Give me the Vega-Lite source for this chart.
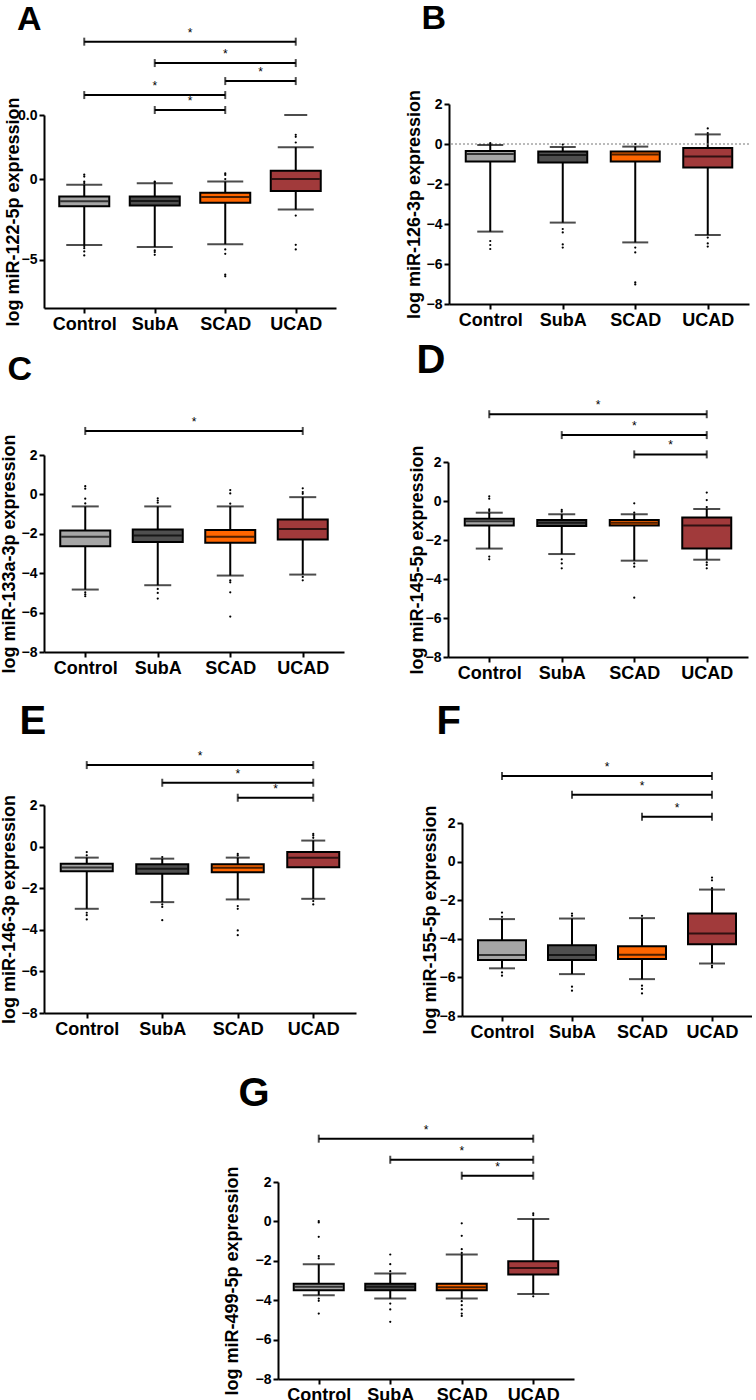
{
  "$schema": "https://vega.github.io/schema/vega-lite/v6.json",
  "padding": {"left": 0, "top": 2, "right": 0, "bottom": 0},
  "background": "white",
  "config": {
    "view": {"stroke": null},
    "font": "Liberation Sans",
    "axis": {"domainColor": "black", "domainWidth": 2, "tickColor": "black", "tickWidth": 2, "tickSize": 5, "labelColor": "black", "labelFontWeight": "bold", "titleFontWeight": "bold", "titleColor": "black", "titleFontSize": 18, "titleFont": "Liberation Sans", "labelFont": "Liberation Sans", "grid": false, "labelPadding": 2, "labelFlush": false, "labelOverlap": false, "labelBound": false, "tickCount": 12},
    "axisX": {"labelFontSize": 18, "labelAngle": 0},
    "axisY": {"labelFontSize": 14},
    "title": {"anchor": "start", "fontWeight": "bold", "color": "black", "font": "Liberation Sans"}
  },
  "datasets": {
    "box": [
      {"p": "A", "g": 1, "lo": -4.09, "q1": -1.67, "med": -1.36, "q3": -1.07, "hi": -0.33},
      {"p": "A", "g": 2, "lo": -4.21, "q1": -1.63, "med": -1.34, "q3": -1.07, "hi": -0.25},
      {"p": "A", "g": 3, "lo": -4.03, "q1": -1.45, "med": -1.10, "q3": -0.83, "hi": -0.14},
      {"p": "A", "g": 4, "lo": -1.88, "q1": -0.72, "med": 0.02, "q3": 0.54, "hi": 2.0},
      {"p": "B", "g": 1, "lo": -4.38, "q1": -0.87, "med": -0.5, "q3": -0.35, "hi": -0.05},
      {"p": "B", "g": 2, "lo": -3.93, "q1": -0.92, "med": -0.55, "q3": -0.38, "hi": -0.15},
      {"p": "B", "g": 3, "lo": -4.92, "q1": -0.87, "med": -0.52, "q3": -0.37, "hi": -0.13},
      {"p": "B", "g": 4, "lo": -4.55, "q1": -1.17, "med": -0.62, "q3": -0.2, "hi": 0.48},
      {"p": "C", "g": 1, "lo": -4.83, "q1": -2.63, "med": -2.15, "q3": -1.83, "hi": -0.61},
      {"p": "C", "g": 2, "lo": -4.61, "q1": -2.42, "med": -2.08, "q3": -1.78, "hi": -0.61},
      {"p": "C", "g": 3, "lo": -4.12, "q1": -2.46, "med": -2.15, "q3": -1.81, "hi": -0.61},
      {"p": "C", "g": 4, "lo": -4.07, "q1": -2.29, "med": -1.75, "q3": -1.27, "hi": -0.14},
      {"p": "D", "g": 1, "lo": -2.44, "q1": -1.25, "med": -1.04, "q3": -0.91, "hi": -0.6},
      {"p": "D", "g": 2, "lo": -2.72, "q1": -1.28, "med": -1.11, "q3": -0.97, "hi": -0.68},
      {"p": "D", "g": 3, "lo": -3.06, "q1": -1.26, "med": -1.11, "q3": -0.97, "hi": -0.68},
      {"p": "D", "g": 4, "lo": -3.01, "q1": -2.44, "med": -1.25, "q3": -0.84, "hi": -0.41},
      {"p": "E", "g": 1, "lo": -2.99, "q1": -1.18, "med": -1.01, "q3": -0.83, "hi": -0.53},
      {"p": "E", "g": 2, "lo": -2.67, "q1": -1.31, "med": -1.07, "q3": -0.85, "hi": -0.58},
      {"p": "E", "g": 3, "lo": -2.54, "q1": -1.23, "med": -1.02, "q3": -0.85, "hi": -0.53},
      {"p": "E", "g": 4, "lo": -2.51, "q1": -0.99, "med": -0.54, "q3": -0.26, "hi": 0.29},
      {"p": "F", "g": 1, "lo": -5.53, "q1": -5.1, "med": -4.84, "q3": -4.07, "hi": -2.98},
      {"p": "F", "g": 2, "lo": -5.83, "q1": -5.1, "med": -4.84, "q3": -4.33, "hi": -2.95},
      {"p": "F", "g": 3, "lo": -6.09, "q1": -5.05, "med": -4.83, "q3": -4.38, "hi": -2.93},
      {"p": "F", "g": 4, "lo": -5.28, "q1": -4.28, "med": -3.72, "q3": -2.69, "hi": -1.45},
      {"p": "G", "g": 1, "lo": -3.75, "q1": -3.49, "med": -3.32, "q3": -3.17, "hi": -2.17},
      {"p": "G", "g": 2, "lo": -3.92, "q1": -3.49, "med": -3.32, "q3": -3.17, "hi": -2.64},
      {"p": "G", "g": 3, "lo": -3.92, "q1": -3.49, "med": -3.34, "q3": -3.17, "hi": -1.68},
      {"p": "G", "g": 4, "lo": -3.69, "q1": -2.69, "med": -2.36, "q3": -2.02, "hi": 0.12}
    ],
    "out": [
      {"p": "A", "g": 1, "v": 0.29}, {"p": "A", "g": 1, "v": 0.17}, {"p": "A", "g": 1, "v": -0.14}, {"p": "A", "g": 1, "v": -0.23}, {"p": "A", "g": 1, "v": -4.15}, {"p": "A", "g": 1, "v": -4.28}, {"p": "A", "g": 1, "v": -4.48}, {"p": "A", "g": 1, "v": -4.73},
      {"p": "A", "g": 2, "v": -0.14}, {"p": "A", "g": 2, "v": -0.18}, {"p": "A", "g": 2, "v": -4.42}, {"p": "A", "g": 2, "v": -4.52}, {"p": "A", "g": 2, "v": -4.69},
      {"p": "A", "g": 3, "v": 0.37}, {"p": "A", "g": 3, "v": 0.27}, {"p": "A", "g": 3, "v": 0.02}, {"p": "A", "g": 3, "v": -4.36}, {"p": "A", "g": 3, "v": -4.63}, {"p": "A", "g": 3, "v": -5.93}, {"p": "A", "g": 3, "v": -6.03},
      {"p": "A", "g": 4, "v": 2.77}, {"p": "A", "g": 4, "v": 2.64}, {"p": "A", "g": 4, "v": 2.29}, {"p": "A", "g": 4, "v": -2.25}, {"p": "A", "g": 4, "v": -4.07}, {"p": "A", "g": 4, "v": -4.36},
      {"p": "B", "g": 1, "v": 0.05}, {"p": "B", "g": 1, "v": 0.0}, {"p": "B", "g": 1, "v": -4.85}, {"p": "B", "g": 1, "v": -5.05}, {"p": "B", "g": 1, "v": -5.25},
      {"p": "B", "g": 2, "v": -0.03}, {"p": "B", "g": 2, "v": -4.25}, {"p": "B", "g": 2, "v": -4.42}, {"p": "B", "g": 2, "v": -5.02}, {"p": "B", "g": 2, "v": -5.18},
      {"p": "B", "g": 3, "v": 0.0}, {"p": "B", "g": 3, "v": -5.18}, {"p": "B", "g": 3, "v": -5.42}, {"p": "B", "g": 3, "v": -6.92}, {"p": "B", "g": 3, "v": -7.02},
      {"p": "B", "g": 4, "v": 0.78}, {"p": "B", "g": 4, "v": 0.55}, {"p": "B", "g": 4, "v": -4.68}, {"p": "B", "g": 4, "v": -4.97}, {"p": "B", "g": 4, "v": -5.13},
      {"p": "C", "g": 1, "v": 0.42}, {"p": "C", "g": 1, "v": 0.29}, {"p": "C", "g": 1, "v": -0.22}, {"p": "C", "g": 1, "v": -0.46}, {"p": "C", "g": 1, "v": -4.97}, {"p": "C", "g": 1, "v": -5.08}, {"p": "C", "g": 1, "v": -5.17},
      {"p": "C", "g": 2, "v": -0.2}, {"p": "C", "g": 2, "v": -0.31}, {"p": "C", "g": 2, "v": -0.42}, {"p": "C", "g": 2, "v": -4.8}, {"p": "C", "g": 2, "v": -5.0}, {"p": "C", "g": 2, "v": -5.29},
      {"p": "C", "g": 3, "v": 0.22}, {"p": "C", "g": 3, "v": 0.05}, {"p": "C", "g": 3, "v": -0.47}, {"p": "C", "g": 3, "v": -4.37}, {"p": "C", "g": 3, "v": -4.46}, {"p": "C", "g": 3, "v": -4.97}, {"p": "C", "g": 3, "v": -6.2},
      {"p": "C", "g": 4, "v": 0.31}, {"p": "C", "g": 4, "v": 0.12}, {"p": "C", "g": 4, "v": 0.03}, {"p": "C", "g": 4, "v": -4.19}, {"p": "C", "g": 4, "v": -4.36},
      {"p": "D", "g": 1, "v": 0.24}, {"p": "D", "g": 1, "v": 0.12}, {"p": "D", "g": 1, "v": -0.43}, {"p": "D", "g": 1, "v": -0.51}, {"p": "D", "g": 1, "v": -2.85}, {"p": "D", "g": 1, "v": -2.99},
      {"p": "D", "g": 2, "v": -0.46}, {"p": "D", "g": 2, "v": -0.55}, {"p": "D", "g": 2, "v": -2.99}, {"p": "D", "g": 2, "v": -3.2}, {"p": "D", "g": 2, "v": -3.45},
      {"p": "D", "g": 3, "v": -0.12}, {"p": "D", "g": 3, "v": -0.6}, {"p": "D", "g": 3, "v": -3.2}, {"p": "D", "g": 3, "v": -3.37}, {"p": "D", "g": 3, "v": -4.96},
      {"p": "D", "g": 4, "v": 0.43}, {"p": "D", "g": 4, "v": 0.05}, {"p": "D", "g": 4, "v": -0.31}, {"p": "D", "g": 4, "v": -3.15}, {"p": "D", "g": 4, "v": -3.28}, {"p": "D", "g": 4, "v": -3.45},
      {"p": "E", "g": 1, "v": -0.26}, {"p": "E", "g": 1, "v": -0.42}, {"p": "E", "g": 1, "v": -3.18}, {"p": "E", "g": 1, "v": -3.3}, {"p": "E", "g": 1, "v": -3.5},
      {"p": "E", "g": 2, "v": -0.5}, {"p": "E", "g": 2, "v": -2.78}, {"p": "E", "g": 2, "v": -2.9}, {"p": "E", "g": 2, "v": -3.54},
      {"p": "E", "g": 3, "v": -0.35}, {"p": "E", "g": 3, "v": -0.43}, {"p": "E", "g": 3, "v": -2.86}, {"p": "E", "g": 3, "v": -2.99}, {"p": "E", "g": 3, "v": -4.03}, {"p": "E", "g": 3, "v": -4.26},
      {"p": "E", "g": 4, "v": 0.61}, {"p": "E", "g": 4, "v": 0.53}, {"p": "E", "g": 4, "v": 0.42}, {"p": "E", "g": 4, "v": -2.62}, {"p": "E", "g": 4, "v": -2.78},
      {"p": "F", "g": 1, "v": -2.64}, {"p": "F", "g": 1, "v": -2.86}, {"p": "F", "g": 1, "v": -5.74}, {"p": "F", "g": 1, "v": -5.91},
      {"p": "F", "g": 2, "v": -2.69}, {"p": "F", "g": 2, "v": -2.81}, {"p": "F", "g": 2, "v": -6.48}, {"p": "F", "g": 2, "v": -6.69},
      {"p": "F", "g": 3, "v": -2.81}, {"p": "F", "g": 3, "v": -6.43}, {"p": "F", "g": 3, "v": -6.6}, {"p": "F", "g": 3, "v": -6.83},
      {"p": "F", "g": 4, "v": -0.83}, {"p": "F", "g": 4, "v": -0.97}, {"p": "F", "g": 4, "v": -1.38}, {"p": "F", "g": 4, "v": -5.4}, {"p": "F", "g": 4, "v": -5.48},
      {"p": "G", "g": 1, "v": 0.02}, {"p": "G", "g": 1, "v": -0.05}, {"p": "G", "g": 1, "v": -0.78}, {"p": "G", "g": 1, "v": -1.76}, {"p": "G", "g": 1, "v": -1.88}, {"p": "G", "g": 1, "v": -3.92}, {"p": "G", "g": 1, "v": -4.03}, {"p": "G", "g": 1, "v": -4.68},
      {"p": "G", "g": 2, "v": -1.68}, {"p": "G", "g": 2, "v": -2.17}, {"p": "G", "g": 2, "v": -2.53}, {"p": "G", "g": 2, "v": -4.17}, {"p": "G", "g": 2, "v": -4.47}, {"p": "G", "g": 2, "v": -5.1},
      {"p": "G", "g": 3, "v": -0.1}, {"p": "G", "g": 3, "v": -0.73}, {"p": "G", "g": 3, "v": -1.41}, {"p": "G", "g": 3, "v": -1.6}, {"p": "G", "g": 3, "v": -4.05}, {"p": "G", "g": 3, "v": -4.25}, {"p": "G", "g": 3, "v": -4.47}, {"p": "G", "g": 3, "v": -4.68}, {"p": "G", "g": 3, "v": -4.8},
      {"p": "G", "g": 4, "v": 0.32}, {"p": "G", "g": 4, "v": 0.41}, {"p": "G", "g": 4, "v": -3.8}
    ],
    "sig": [
      {"p": "A", "from": 1, "to": 4, "mid": 2.5, "lvl": 8.56},
      {"p": "A", "from": 2, "to": 4, "mid": 3, "lvl": 7.23},
      {"p": "A", "from": 3, "to": 4, "mid": 3.5, "lvl": 6.11},
      {"p": "A", "from": 1, "to": 3, "mid": 2, "lvl": 5.24},
      {"p": "A", "from": 2, "to": 3, "mid": 2.5, "lvl": 4.31},
      {"p": "C", "from": 1, "to": 4, "mid": 2.5, "lvl": 3.22},
      {"p": "D", "from": 1, "to": 4, "mid": 2.5, "lvl": 4.45},
      {"p": "D", "from": 2, "to": 4, "mid": 3, "lvl": 3.38},
      {"p": "D", "from": 3, "to": 4, "mid": 3.5, "lvl": 2.39},
      {"p": "E", "from": 1, "to": 4, "mid": 2.5, "lvl": 3.92},
      {"p": "E", "from": 2, "to": 4, "mid": 3, "lvl": 3.07},
      {"p": "E", "from": 3, "to": 4, "mid": 3.5, "lvl": 2.35},
      {"p": "F", "from": 1, "to": 4, "mid": 2.5, "lvl": 4.44},
      {"p": "F", "from": 2, "to": 4, "mid": 3, "lvl": 3.47},
      {"p": "F", "from": 3, "to": 4, "mid": 3.5, "lvl": 2.33},
      {"p": "G", "from": 1, "to": 4, "mid": 2.5, "lvl": 4.2},
      {"p": "G", "from": 2, "to": 4, "mid": 3, "lvl": 3.13},
      {"p": "G", "from": 3, "to": 4, "mid": 3.5, "lvl": 2.32}
    ]
  },
  "concat": [
    {
      "columns": 2, "align": "none", "spacing": 69,
      "concat": [
        {
          "vconcat": [
            {"width": 1, "height": 11, "data": {"values": []}, "mark": {"type": "point", "opacity": 0}},
            {
              "width": 292, "height": 193,
              "title": {"text": "A", "fontSize": 34, "dx": 13, "offset": -10.5},
              "layer": [
                {"data": {"name": "box"}, "transform": [{"filter": "datum.p === 'A'"}], "mark": {"type": "rule", "strokeWidth": 2, "color": "black"},
                 "encoding": {
                   "x": {"field": "g", "type": "quantitative", "scale": {"domain": [0.5, 4.5], "nice": false, "zero": false}, "axis": {"values": [1, 2, 3, 4], "labelExpr": "['', 'Control', 'SubA', 'SCAD', 'UCAD'][datum.value]", "title": null}},
                   "y": {"field": "lo", "type": "quantitative", "scale": {"domain": [-8, 4], "nice": false, "zero": false}, "axis": {"values": [-5, 0, 4], "labelExpr": "datum.value == 4 ? '0.0' : datum.label", "titlePadding": -4.5}, "title": "log miR-122-5p expression"},
                   "y2": {"field": "hi"}}},
                {"data": {"name": "box"}, "transform": [{"filter": "datum.p === 'A'"}], "mark": {"type": "tick", "orient": "horizontal", "size": 36, "thickness": 2, "color": "black"},
                 "encoding": {"x": {"field": "g", "type": "quantitative"}, "y": {"field": "lo", "type": "quantitative"}}},
                {"data": {"name": "box"}, "transform": [{"filter": "datum.p === 'A'"}], "mark": {"type": "tick", "orient": "horizontal", "size": 36, "thickness": 2, "color": "black"},
                 "encoding": {"x": {"field": "g", "type": "quantitative"}, "y": {"field": "hi", "type": "quantitative"}}},
                {"data": {"name": "box"}, "transform": [{"filter": "datum.p === 'A'"}], "mark": {"type": "bar", "orient": "vertical", "size": 50, "stroke": "black", "strokeWidth": 2},
                 "encoding": {"x": {"field": "g", "type": "quantitative"}, "y": {"field": "q1", "type": "quantitative"}, "y2": {"field": "q3"},
                   "color": {"field": "g", "type": "nominal", "scale": {"domain": [1, 2, 3, 4], "range": ["#a6a6a6", "#4f4f4f", "#ff6600", "#a13a3b"]}, "legend": null}}},
                {"data": {"name": "box"}, "transform": [{"filter": "datum.p === 'A'"}], "mark": {"type": "tick", "orient": "horizontal", "size": 48, "thickness": 2, "color": "black"},
                 "encoding": {"x": {"field": "g", "type": "quantitative"}, "y": {"field": "med", "type": "quantitative"}}},
                {"data": {"name": "out"}, "transform": [{"filter": "datum.p === 'A'"}], "mark": {"type": "circle", "size": 5, "color": "black", "opacity": 1},
                 "encoding": {"x": {"field": "g", "type": "quantitative"}, "y": {"field": "v", "type": "quantitative"}}},
                {"data": {"values": [{"g": 4, "v": 4}]}, "mark": {"type": "tick", "orient": "horizontal", "size": 23, "thickness": 2, "color": "black"},
                 "encoding": {"x": {"field": "g", "type": "quantitative"}, "y": {"field": "v", "type": "quantitative"}}},
                {"data": {"name": "sig"}, "transform": [{"filter": "datum.p === 'A'"}], "mark": {"type": "rule", "strokeWidth": 2, "color": "black"},
                 "encoding": {"x": {"field": "from", "type": "quantitative"}, "x2": {"field": "to"}, "y": {"field": "lvl", "type": "quantitative"}}},
                {"data": {"name": "sig"}, "transform": [{"filter": "datum.p === 'A'"}], "mark": {"type": "tick", "orient": "vertical", "size": 8, "thickness": 2, "color": "black"},
                 "encoding": {"x": {"field": "from", "type": "quantitative"}, "y": {"field": "lvl", "type": "quantitative"}}},
                {"data": {"name": "sig"}, "transform": [{"filter": "datum.p === 'A'"}], "mark": {"type": "tick", "orient": "vertical", "size": 8, "thickness": 2, "color": "black"},
                 "encoding": {"x": {"field": "to", "type": "quantitative"}, "y": {"field": "lvl", "type": "quantitative"}}},
                {"data": {"name": "sig"}, "transform": [{"filter": "datum.p === 'A'"}], "mark": {"type": "text", "text": "*", "fontSize": 12, "baseline": "bottom", "dy": -2, "color": "black"},
                 "encoding": {"x": {"field": "mid", "type": "quantitative"}, "y": {"field": "lvl", "type": "quantitative"}}}
              ]
            }
          ],
          "spacing": 0, "bounds": "flush"
        },
        {
          "width": 300, "height": 200,
          "title": {"text": "B", "fontSize": 34, "dx": 16, "offset": 53},
          "layer": [
            {"data": {"name": "box"}, "transform": [{"filter": "datum.p === 'B'"}], "mark": {"type": "rule", "strokeWidth": 2, "color": "black"},
             "encoding": {
               "x": {"field": "g", "type": "quantitative", "scale": {"domain": [0.5, 4.5], "nice": false, "zero": false}, "axis": {"values": [1, 2, 3, 4], "labelExpr": "['', 'Control', 'SubA', 'SCAD', 'UCAD'][datum.value]", "title": null}},
               "y": {"field": "lo", "type": "quantitative", "scale": {"domain": [-8, 2], "nice": false, "zero": false}, "axis": {"values": [-8, -6, -4, -2, 0, 2], "titlePadding": 2.5}, "title": "log miR-126-3p expression"},
               "y2": {"field": "hi"}}},
            {"data": {"values": [{}]}, "mark": {"type": "rule", "strokeDash": [2, 2], "strokeWidth": 1, "color": "#777777"}, "encoding": {"y": {"datum": 0}}},
            {"data": {"name": "box"}, "transform": [{"filter": "datum.p === 'B'"}], "mark": {"type": "tick", "orient": "horizontal", "size": 26, "thickness": 2, "color": "black"},
             "encoding": {"x": {"field": "g", "type": "quantitative"}, "y": {"field": "lo", "type": "quantitative"}}},
            {"data": {"name": "box"}, "transform": [{"filter": "datum.p === 'B'"}], "mark": {"type": "tick", "orient": "horizontal", "size": 26, "thickness": 2, "color": "black"},
             "encoding": {"x": {"field": "g", "type": "quantitative"}, "y": {"field": "hi", "type": "quantitative"}}},
            {"data": {"name": "box"}, "transform": [{"filter": "datum.p === 'B'"}], "mark": {"type": "bar", "orient": "vertical", "size": 49, "stroke": "black", "strokeWidth": 2},
             "encoding": {"x": {"field": "g", "type": "quantitative"}, "y": {"field": "q1", "type": "quantitative"}, "y2": {"field": "q3"},
               "color": {"field": "g", "type": "nominal", "scale": {"domain": [1, 2, 3, 4], "range": ["#a6a6a6", "#4f4f4f", "#ff6600", "#a13a3b"]}, "legend": null}}},
            {"data": {"name": "box"}, "transform": [{"filter": "datum.p === 'B'"}], "mark": {"type": "tick", "orient": "horizontal", "size": 47, "thickness": 2, "color": "black"},
             "encoding": {"x": {"field": "g", "type": "quantitative"}, "y": {"field": "med", "type": "quantitative"}}},
            {"data": {"name": "out"}, "transform": [{"filter": "datum.p === 'B'"}], "mark": {"type": "circle", "size": 5, "color": "black", "opacity": 1},
             "encoding": {"x": {"field": "g", "type": "quantitative"}, "y": {"field": "v", "type": "quantitative"}}}
          ]
        }
      ]
    },
    {"width": 1, "height": 7, "data": {"values": []}, "mark": {"type": "point", "opacity": 0}},
    {
      "columns": 2, "align": "none", "spacing": 64,
      "concat": [
        {
          "width": 300, "height": 197,
          "title": {"text": "C", "fontSize": 34, "dx": 7, "offset": 29},
          "layer": [
            {"data": {"name": "box"}, "transform": [{"filter": "datum.p === 'C'"}], "mark": {"type": "rule", "strokeWidth": 2, "color": "black"},
             "encoding": {
               "x": {"field": "g", "type": "quantitative", "scale": {"domain": [0.5, 4.5], "nice": false, "zero": false}, "axis": {"values": [1, 2, 3, 4], "labelExpr": "['', 'Control', 'SubA', 'SCAD', 'UCAD'][datum.value]", "title": null}},
               "y": {"field": "lo", "type": "quantitative", "scale": {"domain": [-8, 2], "nice": false, "zero": false}, "axis": {"values": [-8, -6, -4, -2, 0, 2], "titlePadding": 2.5}, "title": "log miR-133a-3p expression"},
               "y2": {"field": "hi"}}},
            {"data": {"name": "box"}, "transform": [{"filter": "datum.p === 'C'"}], "mark": {"type": "tick", "orient": "horizontal", "size": 27, "thickness": 2, "color": "black"},
             "encoding": {"x": {"field": "g", "type": "quantitative"}, "y": {"field": "lo", "type": "quantitative"}}},
            {"data": {"name": "box"}, "transform": [{"filter": "datum.p === 'C'"}], "mark": {"type": "tick", "orient": "horizontal", "size": 27, "thickness": 2, "color": "black"},
             "encoding": {"x": {"field": "g", "type": "quantitative"}, "y": {"field": "hi", "type": "quantitative"}}},
            {"data": {"name": "box"}, "transform": [{"filter": "datum.p === 'C'"}], "mark": {"type": "bar", "orient": "vertical", "size": 50, "stroke": "black", "strokeWidth": 2},
             "encoding": {"x": {"field": "g", "type": "quantitative"}, "y": {"field": "q1", "type": "quantitative"}, "y2": {"field": "q3"},
               "color": {"field": "g", "type": "nominal", "scale": {"domain": [1, 2, 3, 4], "range": ["#a6a6a6", "#4f4f4f", "#ff6600", "#a13a3b"]}, "legend": null}}},
            {"data": {"name": "box"}, "transform": [{"filter": "datum.p === 'C'"}], "mark": {"type": "tick", "orient": "horizontal", "size": 48, "thickness": 2, "color": "black"},
             "encoding": {"x": {"field": "g", "type": "quantitative"}, "y": {"field": "med", "type": "quantitative"}}},
            {"data": {"name": "out"}, "transform": [{"filter": "datum.p === 'C'"}], "mark": {"type": "circle", "size": 5, "color": "black", "opacity": 1},
             "encoding": {"x": {"field": "g", "type": "quantitative"}, "y": {"field": "v", "type": "quantitative"}}},
            {"data": {"name": "sig"}, "transform": [{"filter": "datum.p === 'C'"}], "mark": {"type": "rule", "strokeWidth": 2, "color": "black"},
             "encoding": {"x": {"field": "from", "type": "quantitative"}, "x2": {"field": "to"}, "y": {"field": "lvl", "type": "quantitative"}}},
            {"data": {"name": "sig"}, "transform": [{"filter": "datum.p === 'C'"}], "mark": {"type": "tick", "orient": "vertical", "size": 8, "thickness": 2, "color": "black"},
             "encoding": {"x": {"field": "from", "type": "quantitative"}, "y": {"field": "lvl", "type": "quantitative"}}},
            {"data": {"name": "sig"}, "transform": [{"filter": "datum.p === 'C'"}], "mark": {"type": "tick", "orient": "vertical", "size": 8, "thickness": 2, "color": "black"},
             "encoding": {"x": {"field": "to", "type": "quantitative"}, "y": {"field": "lvl", "type": "quantitative"}}},
            {"data": {"name": "sig"}, "transform": [{"filter": "datum.p === 'C'"}], "mark": {"type": "text", "text": "*", "fontSize": 12, "baseline": "bottom", "dy": -2, "color": "black"},
             "encoding": {"x": {"field": "mid", "type": "quantitative"}, "y": {"field": "lvl", "type": "quantitative"}}}
          ]
        },
        {
          "vconcat": [
            {"width": 1, "height": 7, "data": {"values": []}, "mark": {"type": "point", "opacity": 0}},
            {
              "width": 300, "height": 195,
              "title": {"text": "D", "fontSize": 40, "dx": 8, "offset": 18.5},
              "layer": [
                {"data": {"name": "box"}, "transform": [{"filter": "datum.p === 'D'"}], "mark": {"type": "rule", "strokeWidth": 2, "color": "black"},
                 "encoding": {
                   "x": {"field": "g", "type": "quantitative", "scale": {"domain": [0.5, 4.5], "nice": false, "zero": false}, "axis": {"values": [1, 2, 3, 4], "labelExpr": "['', 'Control', 'SubA', 'SCAD', 'UCAD'][datum.value]", "title": null}},
                   "y": {"field": "lo", "type": "quantitative", "scale": {"domain": [-8, 2], "nice": false, "zero": false}, "axis": {"values": [-8, -6, -4, -2, 0, 2], "titlePadding": -1.5}, "title": "log miR-145-5p expression"},
                   "y2": {"field": "hi"}}},
                {"data": {"name": "box"}, "transform": [{"filter": "datum.p === 'D'"}], "mark": {"type": "tick", "orient": "horizontal", "size": 27, "thickness": 2, "color": "black"},
                 "encoding": {"x": {"field": "g", "type": "quantitative"}, "y": {"field": "lo", "type": "quantitative"}}},
                {"data": {"name": "box"}, "transform": [{"filter": "datum.p === 'D'"}], "mark": {"type": "tick", "orient": "horizontal", "size": 27, "thickness": 2, "color": "black"},
                 "encoding": {"x": {"field": "g", "type": "quantitative"}, "y": {"field": "hi", "type": "quantitative"}}},
                {"data": {"name": "box"}, "transform": [{"filter": "datum.p === 'D'"}], "mark": {"type": "bar", "orient": "vertical", "size": 49, "stroke": "black", "strokeWidth": 2},
                 "encoding": {"x": {"field": "g", "type": "quantitative"}, "y": {"field": "q1", "type": "quantitative"}, "y2": {"field": "q3"},
                   "color": {"field": "g", "type": "nominal", "scale": {"domain": [1, 2, 3, 4], "range": ["#a6a6a6", "#4f4f4f", "#ff6600", "#a13a3b"]}, "legend": null}}},
                {"data": {"name": "box"}, "transform": [{"filter": "datum.p === 'D'"}], "mark": {"type": "tick", "orient": "horizontal", "size": 47, "thickness": 2, "color": "black"},
                 "encoding": {"x": {"field": "g", "type": "quantitative"}, "y": {"field": "med", "type": "quantitative"}}},
                {"data": {"name": "out"}, "transform": [{"filter": "datum.p === 'D'"}], "mark": {"type": "circle", "size": 5, "color": "black", "opacity": 1},
                 "encoding": {"x": {"field": "g", "type": "quantitative"}, "y": {"field": "v", "type": "quantitative"}}},
                {"data": {"name": "sig"}, "transform": [{"filter": "datum.p === 'D'"}], "mark": {"type": "rule", "strokeWidth": 2, "color": "black"},
                 "encoding": {"x": {"field": "from", "type": "quantitative"}, "x2": {"field": "to"}, "y": {"field": "lvl", "type": "quantitative"}}},
                {"data": {"name": "sig"}, "transform": [{"filter": "datum.p === 'D'"}], "mark": {"type": "tick", "orient": "vertical", "size": 8, "thickness": 2, "color": "black"},
                 "encoding": {"x": {"field": "from", "type": "quantitative"}, "y": {"field": "lvl", "type": "quantitative"}}},
                {"data": {"name": "sig"}, "transform": [{"filter": "datum.p === 'D'"}], "mark": {"type": "tick", "orient": "vertical", "size": 8, "thickness": 2, "color": "black"},
                 "encoding": {"x": {"field": "to", "type": "quantitative"}, "y": {"field": "lvl", "type": "quantitative"}}},
                {"data": {"name": "sig"}, "transform": [{"filter": "datum.p === 'D'"}], "mark": {"type": "text", "text": "*", "fontSize": 12, "baseline": "bottom", "dy": -2, "color": "black"},
                 "encoding": {"x": {"field": "mid", "type": "quantitative"}, "y": {"field": "lvl", "type": "quantitative"}}}
              ]
            }
          ],
          "spacing": 0, "bounds": "flush"
        }
      ]
    },
    {"width": 1, "height": 19, "data": {"values": []}, "mark": {"type": "point", "opacity": 0}},
    {
      "columns": 2, "align": "none", "spacing": 65,
      "concat": [
        {
          "width": 312, "height": 208,
          "title": {"text": "E", "fontSize": 40, "dx": 19, "offset": 8},
          "layer": [
            {"data": {"name": "box"}, "transform": [{"filter": "datum.p === 'E'"}], "mark": {"type": "rule", "strokeWidth": 2, "color": "black"},
             "encoding": {
               "x": {"field": "g", "type": "quantitative", "scale": {"domain": [0.5, 4.5], "nice": false, "zero": false}, "axis": {"values": [1, 2, 3, 4], "labelExpr": "['', 'Control', 'SubA', 'SCAD', 'UCAD'][datum.value]", "title": null}},
               "y": {"field": "lo", "type": "quantitative", "scale": {"domain": [-8, 2], "nice": false, "zero": false}, "axis": {"values": [-8, -6, -4, -2, 0, 2], "titlePadding": 2.5}, "title": "log miR-146-3p expression"},
               "y2": {"field": "hi"}}},
            {"data": {"name": "box"}, "transform": [{"filter": "datum.p === 'E'"}], "mark": {"type": "tick", "orient": "horizontal", "size": 24, "thickness": 2, "color": "black"},
             "encoding": {"x": {"field": "g", "type": "quantitative"}, "y": {"field": "lo", "type": "quantitative"}}},
            {"data": {"name": "box"}, "transform": [{"filter": "datum.p === 'E'"}], "mark": {"type": "tick", "orient": "horizontal", "size": 24, "thickness": 2, "color": "black"},
             "encoding": {"x": {"field": "g", "type": "quantitative"}, "y": {"field": "hi", "type": "quantitative"}}},
            {"data": {"name": "box"}, "transform": [{"filter": "datum.p === 'E'"}], "mark": {"type": "bar", "orient": "vertical", "size": 52, "stroke": "black", "strokeWidth": 2},
             "encoding": {"x": {"field": "g", "type": "quantitative"}, "y": {"field": "q1", "type": "quantitative"}, "y2": {"field": "q3"},
               "color": {"field": "g", "type": "nominal", "scale": {"domain": [1, 2, 3, 4], "range": ["#a6a6a6", "#4f4f4f", "#ff6600", "#a13a3b"]}, "legend": null}}},
            {"data": {"name": "box"}, "transform": [{"filter": "datum.p === 'E'"}], "mark": {"type": "tick", "orient": "horizontal", "size": 50, "thickness": 2, "color": "black"},
             "encoding": {"x": {"field": "g", "type": "quantitative"}, "y": {"field": "med", "type": "quantitative"}}},
            {"data": {"name": "out"}, "transform": [{"filter": "datum.p === 'E'"}], "mark": {"type": "circle", "size": 5, "color": "black", "opacity": 1},
             "encoding": {"x": {"field": "g", "type": "quantitative"}, "y": {"field": "v", "type": "quantitative"}}},
            {"data": {"name": "sig"}, "transform": [{"filter": "datum.p === 'E'"}], "mark": {"type": "rule", "strokeWidth": 2, "color": "black"},
             "encoding": {"x": {"field": "from", "type": "quantitative"}, "x2": {"field": "to"}, "y": {"field": "lvl", "type": "quantitative"}}},
            {"data": {"name": "sig"}, "transform": [{"filter": "datum.p === 'E'"}], "mark": {"type": "tick", "orient": "vertical", "size": 8, "thickness": 2, "color": "black"},
             "encoding": {"x": {"field": "from", "type": "quantitative"}, "y": {"field": "lvl", "type": "quantitative"}}},
            {"data": {"name": "sig"}, "transform": [{"filter": "datum.p === 'E'"}], "mark": {"type": "tick", "orient": "vertical", "size": 8, "thickness": 2, "color": "black"},
             "encoding": {"x": {"field": "to", "type": "quantitative"}, "y": {"field": "lvl", "type": "quantitative"}}},
            {"data": {"name": "sig"}, "transform": [{"filter": "datum.p === 'E'"}], "mark": {"type": "text", "text": "*", "fontSize": 12, "baseline": "bottom", "dy": -2, "color": "black"},
             "encoding": {"x": {"field": "mid", "type": "quantitative"}, "y": {"field": "lvl", "type": "quantitative"}}}
          ]
        },
        {
          "vconcat": [
            {"width": 1, "height": 18, "data": {"values": []}, "mark": {"type": "point", "opacity": 0}},
            {
              "width": 290, "height": 193,
              "title": {"text": "F", "fontSize": 40, "dx": 15, "offset": 19},
              "layer": [
                {"data": {"name": "box"}, "transform": [{"filter": "datum.p === 'F'"}], "mark": {"type": "rule", "strokeWidth": 2, "color": "black"},
                 "encoding": {
                   "x": {"field": "g", "type": "quantitative", "scale": {"domain": [0.5, 4.5], "nice": false, "zero": false}, "axis": {"values": [1, 2, 3, 4], "labelExpr": "['', 'Control', 'SubA', 'SCAD', 'UCAD'][datum.value]", "title": null}},
                   "y": {"field": "lo", "type": "quantitative", "scale": {"domain": [-8, 2], "nice": false, "zero": false}, "axis": {"values": [-8, -6, -4, -2, 0, 2], "titlePadding": -0.5}, "title": "log miR-155-5p expression"},
                   "y2": {"field": "hi"}}},
                {"data": {"name": "box"}, "transform": [{"filter": "datum.p === 'F'"}], "mark": {"type": "tick", "orient": "horizontal", "size": 26, "thickness": 2, "color": "black"},
                 "encoding": {"x": {"field": "g", "type": "quantitative"}, "y": {"field": "lo", "type": "quantitative"}}},
                {"data": {"name": "box"}, "transform": [{"filter": "datum.p === 'F'"}], "mark": {"type": "tick", "orient": "horizontal", "size": 26, "thickness": 2, "color": "black"},
                 "encoding": {"x": {"field": "g", "type": "quantitative"}, "y": {"field": "hi", "type": "quantitative"}}},
                {"data": {"name": "box"}, "transform": [{"filter": "datum.p === 'F'"}], "mark": {"type": "bar", "orient": "vertical", "size": 48, "stroke": "black", "strokeWidth": 2},
                 "encoding": {"x": {"field": "g", "type": "quantitative"}, "y": {"field": "q1", "type": "quantitative"}, "y2": {"field": "q3"},
                   "color": {"field": "g", "type": "nominal", "scale": {"domain": [1, 2, 3, 4], "range": ["#a6a6a6", "#4f4f4f", "#ff6600", "#a13a3b"]}, "legend": null}}},
                {"data": {"name": "box"}, "transform": [{"filter": "datum.p === 'F'"}], "mark": {"type": "tick", "orient": "horizontal", "size": 46, "thickness": 2, "color": "black"},
                 "encoding": {"x": {"field": "g", "type": "quantitative"}, "y": {"field": "med", "type": "quantitative"}}},
                {"data": {"name": "out"}, "transform": [{"filter": "datum.p === 'F'"}], "mark": {"type": "circle", "size": 5, "color": "black", "opacity": 1},
                 "encoding": {"x": {"field": "g", "type": "quantitative"}, "y": {"field": "v", "type": "quantitative"}}},
                {"data": {"name": "sig"}, "transform": [{"filter": "datum.p === 'F'"}], "mark": {"type": "rule", "strokeWidth": 2, "color": "black"},
                 "encoding": {"x": {"field": "from", "type": "quantitative"}, "x2": {"field": "to"}, "y": {"field": "lvl", "type": "quantitative"}}},
                {"data": {"name": "sig"}, "transform": [{"filter": "datum.p === 'F'"}], "mark": {"type": "tick", "orient": "vertical", "size": 8, "thickness": 2, "color": "black"},
                 "encoding": {"x": {"field": "from", "type": "quantitative"}, "y": {"field": "lvl", "type": "quantitative"}}},
                {"data": {"name": "sig"}, "transform": [{"filter": "datum.p === 'F'"}], "mark": {"type": "tick", "orient": "vertical", "size": 8, "thickness": 2, "color": "black"},
                 "encoding": {"x": {"field": "to", "type": "quantitative"}, "y": {"field": "lvl", "type": "quantitative"}}},
                {"data": {"name": "sig"}, "transform": [{"filter": "datum.p === 'F'"}], "mark": {"type": "text", "text": "*", "fontSize": 12, "baseline": "bottom", "dy": -2, "color": "black"},
                 "encoding": {"x": {"field": "mid", "type": "quantitative"}, "y": {"field": "lvl", "type": "quantitative"}}}
              ]
            }
          ],
          "spacing": 0, "bounds": "flush"
        }
      ]
    },
    {"width": 1, "height": 32, "data": {"values": []}, "mark": {"type": "point", "opacity": 0}},
    {
      "columns": 2, "align": "none", "spacing": 0,
      "concat": [
        {"width": 179, "height": 20, "data": {"values": []}, "mark": {"type": "point", "opacity": 0}},
        {
          "width": 296, "height": 197,
          "title": {"text": "G", "fontSize": 40, "dx": 15, "offset": 10},
          "layer": [
            {"data": {"name": "box"}, "transform": [{"filter": "datum.p === 'G'"}], "mark": {"type": "rule", "strokeWidth": 2, "color": "black"},
             "encoding": {
               "x": {"field": "g", "type": "quantitative", "scale": {"domain": [0.5, 4.5], "nice": false, "zero": false}, "axis": {"values": [1, 2, 3, 4], "labelExpr": "['', 'Control', 'SubA', 'SCAD', 'UCAD'][datum.value]", "title": null}},
               "y": {"field": "lo", "type": "quantitative", "scale": {"domain": [-8, 2], "nice": false, "zero": false}, "axis": {"values": [-8, -6, -4, -2, 0, 2], "titlePadding": 13.5}, "title": "log miR-499-5p expression"},
               "y2": {"field": "hi"}}},
            {"data": {"name": "box"}, "transform": [{"filter": "datum.p === 'G'"}], "mark": {"type": "tick", "orient": "horizontal", "size": 32, "thickness": 2, "color": "black"},
             "encoding": {"x": {"field": "g", "type": "quantitative"}, "y": {"field": "lo", "type": "quantitative"}}},
            {"data": {"name": "box"}, "transform": [{"filter": "datum.p === 'G'"}], "mark": {"type": "tick", "orient": "horizontal", "size": 32, "thickness": 2, "color": "black"},
             "encoding": {"x": {"field": "g", "type": "quantitative"}, "y": {"field": "hi", "type": "quantitative"}}},
            {"data": {"name": "box"}, "transform": [{"filter": "datum.p === 'G'"}], "mark": {"type": "bar", "orient": "vertical", "size": 50, "stroke": "black", "strokeWidth": 2},
             "encoding": {"x": {"field": "g", "type": "quantitative"}, "y": {"field": "q1", "type": "quantitative"}, "y2": {"field": "q3"},
               "color": {"field": "g", "type": "nominal", "scale": {"domain": [1, 2, 3, 4], "range": ["#a6a6a6", "#4f4f4f", "#ff6600", "#a13a3b"]}, "legend": null}}},
            {"data": {"name": "box"}, "transform": [{"filter": "datum.p === 'G'"}], "mark": {"type": "tick", "orient": "horizontal", "size": 48, "thickness": 2, "color": "black"},
             "encoding": {"x": {"field": "g", "type": "quantitative"}, "y": {"field": "med", "type": "quantitative"}}},
            {"data": {"name": "out"}, "transform": [{"filter": "datum.p === 'G'"}], "mark": {"type": "circle", "size": 5, "color": "black", "opacity": 1},
             "encoding": {"x": {"field": "g", "type": "quantitative"}, "y": {"field": "v", "type": "quantitative"}}},
            {"data": {"name": "sig"}, "transform": [{"filter": "datum.p === 'G'"}], "mark": {"type": "rule", "strokeWidth": 2, "color": "black"},
             "encoding": {"x": {"field": "from", "type": "quantitative"}, "x2": {"field": "to"}, "y": {"field": "lvl", "type": "quantitative"}}},
            {"data": {"name": "sig"}, "transform": [{"filter": "datum.p === 'G'"}], "mark": {"type": "tick", "orient": "vertical", "size": 8, "thickness": 2, "color": "black"},
             "encoding": {"x": {"field": "from", "type": "quantitative"}, "y": {"field": "lvl", "type": "quantitative"}}},
            {"data": {"name": "sig"}, "transform": [{"filter": "datum.p === 'G'"}], "mark": {"type": "tick", "orient": "vertical", "size": 8, "thickness": 2, "color": "black"},
             "encoding": {"x": {"field": "to", "type": "quantitative"}, "y": {"field": "lvl", "type": "quantitative"}}},
            {"data": {"name": "sig"}, "transform": [{"filter": "datum.p === 'G'"}], "mark": {"type": "text", "text": "*", "fontSize": 12, "baseline": "bottom", "dy": -2, "color": "black"},
             "encoding": {"x": {"field": "mid", "type": "quantitative"}, "y": {"field": "lvl", "type": "quantitative"}}}
          ]
        }
      ]
    }
  ],
  "columns": 1, "align": "none", "spacing": 0
}
